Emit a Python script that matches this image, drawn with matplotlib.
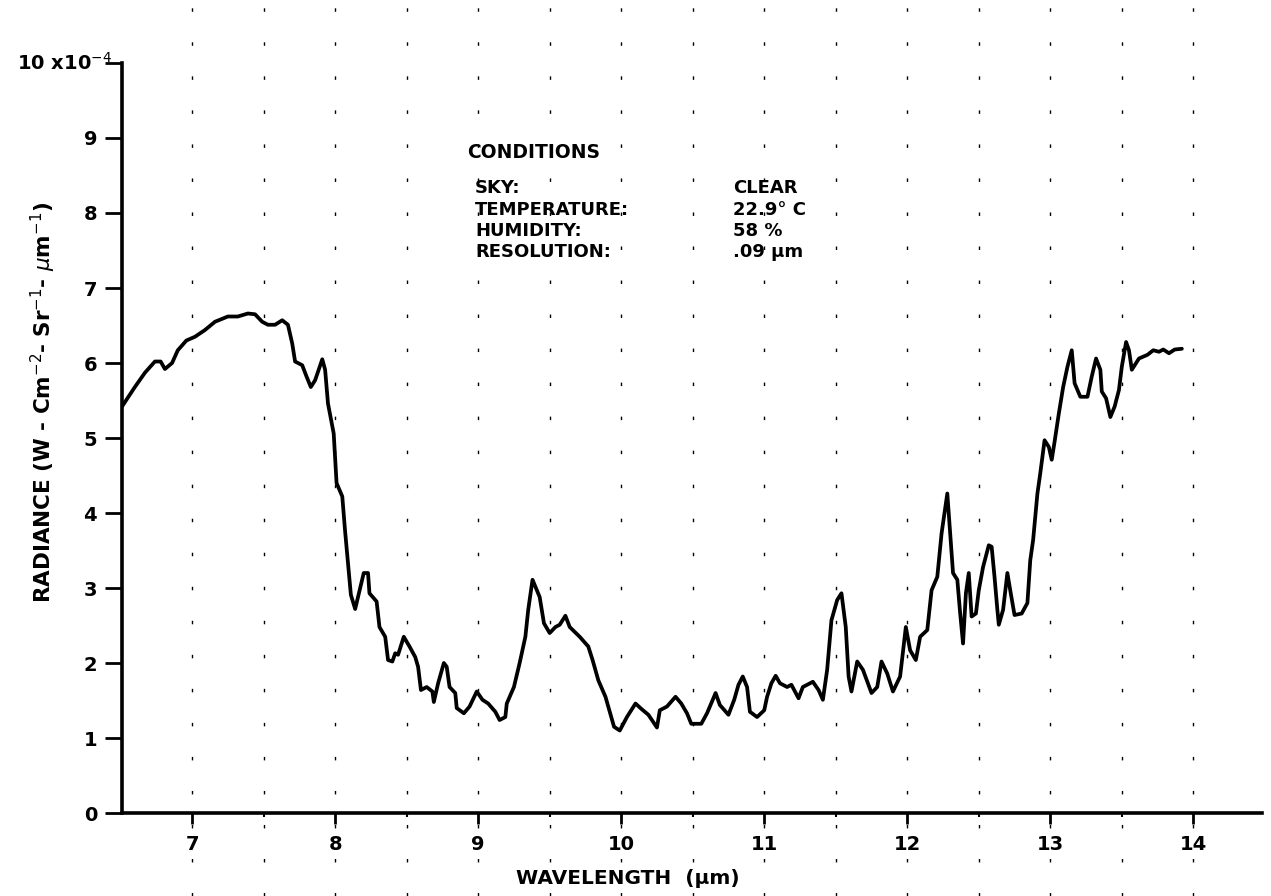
import matplotlib
matplotlib.use("Agg")
import matplotlib.pyplot as plt
import numpy as np

# Sky radiance spectrum, clear sky (units of 1e-4 W cm^-2 sr^-1 um^-1)
wavelength_um = [
    6.51, 6.60, 6.67, 6.74, 6.78, 6.81, 6.86, 6.90, 6.96, 7.02, 7.09, 7.16,
    7.25, 7.32, 7.39, 7.44, 7.49, 7.53, 7.58, 7.63, 7.67, 7.70, 7.72, 7.77,
    7.80, 7.83, 7.86, 7.91, 7.93, 7.95, 7.99, 8.01, 8.05, 8.07, 8.09, 8.11,
    8.14, 8.16, 8.20, 8.23, 8.24, 8.29, 8.31, 8.35, 8.37, 8.40, 8.42, 8.44,
    8.48, 8.52, 8.56, 8.58, 8.60, 8.64, 8.68, 8.69, 8.72, 8.76, 8.78, 8.80,
    8.84, 8.85, 8.90, 8.94, 8.99, 9.03, 9.07, 9.12, 9.15, 9.19, 9.20, 9.25,
    9.29, 9.33, 9.35, 9.38, 9.41, 9.43, 9.46, 9.50, 9.54, 9.57, 9.61, 9.64,
    9.71, 9.77, 9.80, 9.84, 9.89, 9.92, 9.95, 9.99, 10.04, 10.10, 10.14,
    10.19, 10.25, 10.27, 10.32, 10.38, 10.42, 10.46, 10.49, 10.56, 10.60,
    10.66, 10.69, 10.75, 10.79, 10.82, 10.85, 10.88, 10.90, 10.95, 11.00,
    11.02, 11.05, 11.08, 11.11, 11.16, 11.19, 11.24, 11.27, 11.34, 11.38,
    11.41, 11.44, 11.47, 11.51, 11.54, 11.57, 11.59, 11.61, 11.65, 11.69,
    11.75, 11.79, 11.82, 11.86, 11.90, 11.95, 11.99, 12.02, 12.06, 12.09,
    12.14, 12.17, 12.21, 12.24, 12.28, 12.30, 12.32, 12.35, 12.37, 12.39,
    12.41, 12.43, 12.45, 12.48, 12.50, 12.53, 12.57, 12.59, 12.61, 12.63,
    12.64, 12.67, 12.70, 12.72, 12.75, 12.80, 12.84, 12.86, 12.88, 12.91,
    12.93, 12.96, 12.99, 13.01, 13.03, 13.06, 13.09, 13.12, 13.15, 13.17,
    13.21, 13.26, 13.29, 13.32, 13.35, 13.36, 13.39, 13.42, 13.45, 13.48,
    13.50, 13.53, 13.55, 13.57, 13.62, 13.68, 13.72, 13.76, 13.79, 13.83,
    13.87, 13.92,
]
radiance = [
    5.42, 5.68, 5.87, 6.02, 6.02, 5.92, 6.00, 6.17, 6.30, 6.35, 6.44, 6.55,
    6.62, 6.62, 6.66, 6.65, 6.55, 6.51, 6.51, 6.57, 6.51, 6.26, 6.02, 5.97,
    5.82, 5.68, 5.77, 6.05, 5.91, 5.46, 5.06, 4.40, 4.22, 3.75, 3.33, 2.91,
    2.72, 2.88, 3.20, 3.20, 2.93, 2.82, 2.48, 2.35, 2.04, 2.02, 2.13, 2.11,
    2.35, 2.22, 2.08, 1.95, 1.64, 1.68, 1.62, 1.48, 1.73, 2.00, 1.95, 1.68,
    1.60, 1.40, 1.33, 1.42, 1.62, 1.51, 1.46, 1.35, 1.24, 1.28, 1.46, 1.68,
    2.00, 2.35, 2.71, 3.11, 2.97, 2.88, 2.53, 2.40, 2.48, 2.51, 2.63, 2.48,
    2.35, 2.22, 2.04, 1.77, 1.55, 1.35, 1.15, 1.10, 1.28, 1.46, 1.39,
    1.31, 1.14, 1.37, 1.42, 1.55, 1.46, 1.33, 1.19, 1.19, 1.33,
    1.60, 1.44, 1.31, 1.51, 1.71, 1.82, 1.68, 1.35, 1.28, 1.37,
    1.55, 1.73, 1.83, 1.73, 1.68, 1.71, 1.53, 1.68, 1.75, 1.64,
    1.51, 1.91, 2.57, 2.84, 2.93, 2.48, 1.82, 1.62, 2.02, 1.91,
    1.60, 1.68, 2.02, 1.86, 1.62, 1.82, 2.48, 2.17, 2.04, 2.35,
    2.44, 2.97, 3.15, 3.73, 4.26, 3.73, 3.20, 3.11, 2.66, 2.26,
    2.93, 3.20, 2.62, 2.66, 2.97, 3.28, 3.57, 3.55, 3.15, 2.71,
    2.51, 2.71, 3.20, 2.97, 2.64, 2.66, 2.80, 3.37, 3.64, 4.26,
    4.53, 4.97, 4.88, 4.71, 4.95, 5.33, 5.68, 5.95, 6.17, 5.73,
    5.55, 5.55, 5.82, 6.06, 5.91, 5.62, 5.53, 5.28, 5.42, 5.64,
    5.95, 6.28, 6.17, 5.91, 6.06, 6.11, 6.17, 6.15, 6.18, 6.13,
    6.18, 6.19,
]

x_ticks = [7, 8, 9, 10, 11, 12, 13, 14]
x_ticklabels = ["7", "8", "9", "10", "11", "12", "13", "14"]
y_ticks = [0, 1, 2, 3, 4, 5, 6, 7, 8, 9, 10]
y_ticklabels = ["0", "1", "2", "3", "4", "5", "6", "7", "8", "9", ""]

cond_labels = ["SKY:", "TEMPERATURE:", "HUMIDITY:", "RESOLUTION:"]
cond_values = ["CLEAR", "22.9° C", "58 %", ".09 µm"]

plt.rcParams["font.family"] = ["DejaVu Sans"]

fig = plt.figure(figsize=(12.71, 8.96), dpi=100)
ax = fig.add_axes([0.0960, 0.0926, 0.8969, 0.8371])

ax.plot(wavelength_um, radiance, color="black", lw=2.7,
        solid_joinstyle="round", solid_capstyle="round", zorder=3)

ax.set_xlim(6.51, 14.48)
ax.set_ylim(0, 10)

# leftover half-micron rulings of the chart paper
grid_x = np.arange(7.0, 14.01, 0.5)
ax.vlines(grid_x, -1.1, 10.9, colors="black", lw=1.0,
          linestyles=(0, (2.5, 22)), clip_on=False, zorder=1)

for side in ("top", "right"):
    ax.spines[side].set_visible(False)
for side in ("left", "bottom"):
    ax.spines[side].set_linewidth(2.6)

ax.set_xticks(x_ticks)
ax.set_xticklabels(x_ticklabels, fontsize=14, fontweight="bold")
ax.set_yticks(y_ticks)
ax.set_yticklabels(y_ticklabels, fontsize=14, fontweight="bold")
ax.set_xticks(np.arange(7.5, 14.1, 1.0), minor=True)
ax.tick_params(axis="x", which="major", direction="out", length=8, width=2, pad=8)
ax.tick_params(axis="x", which="minor", direction="out", length=3, width=1.5)
ax.tick_params(axis="y", which="major", direction="out", length=12, width=2, pad=6)

ax.text(-0.092, 10, r"10 x10$^{-4}$", transform=ax.get_yaxis_transform(),
        fontsize=14, fontweight="bold", ha="left", va="center")

fig.text(628 / 1271, 1 - 878 / 896, "WAVELENGTH  (µm)", fontsize=14.5,
         fontweight="bold", ha="center", va="center")
fig.text(43 / 1271, 1 - 402 / 896,
         r"RADIANCE (W - Cm$^{-2}$- Sr$^{-1}$- $\mu$m$^{-1}$)",
         fontsize=15.5, fontweight="bold", rotation=90,
         ha="center", va="center")

# conditions block
fig.text(467 / 1271, 1 - 153 / 896, "CONDITIONS", fontsize=13.5,
         fontweight="bold", ha="left", va="center")
row_y = [188, 210, 231, 252]
for lab, val, py in zip(cond_labels, cond_values, row_y):
    fig.text(475 / 1271, 1 - py / 896, lab, fontsize=13,
             fontweight="bold", ha="left", va="center")
    fig.text(733 / 1271, 1 - py / 896, val, fontsize=13,
             fontweight="bold", ha="left", va="center")

fig.savefig("out.png", dpi=100)
